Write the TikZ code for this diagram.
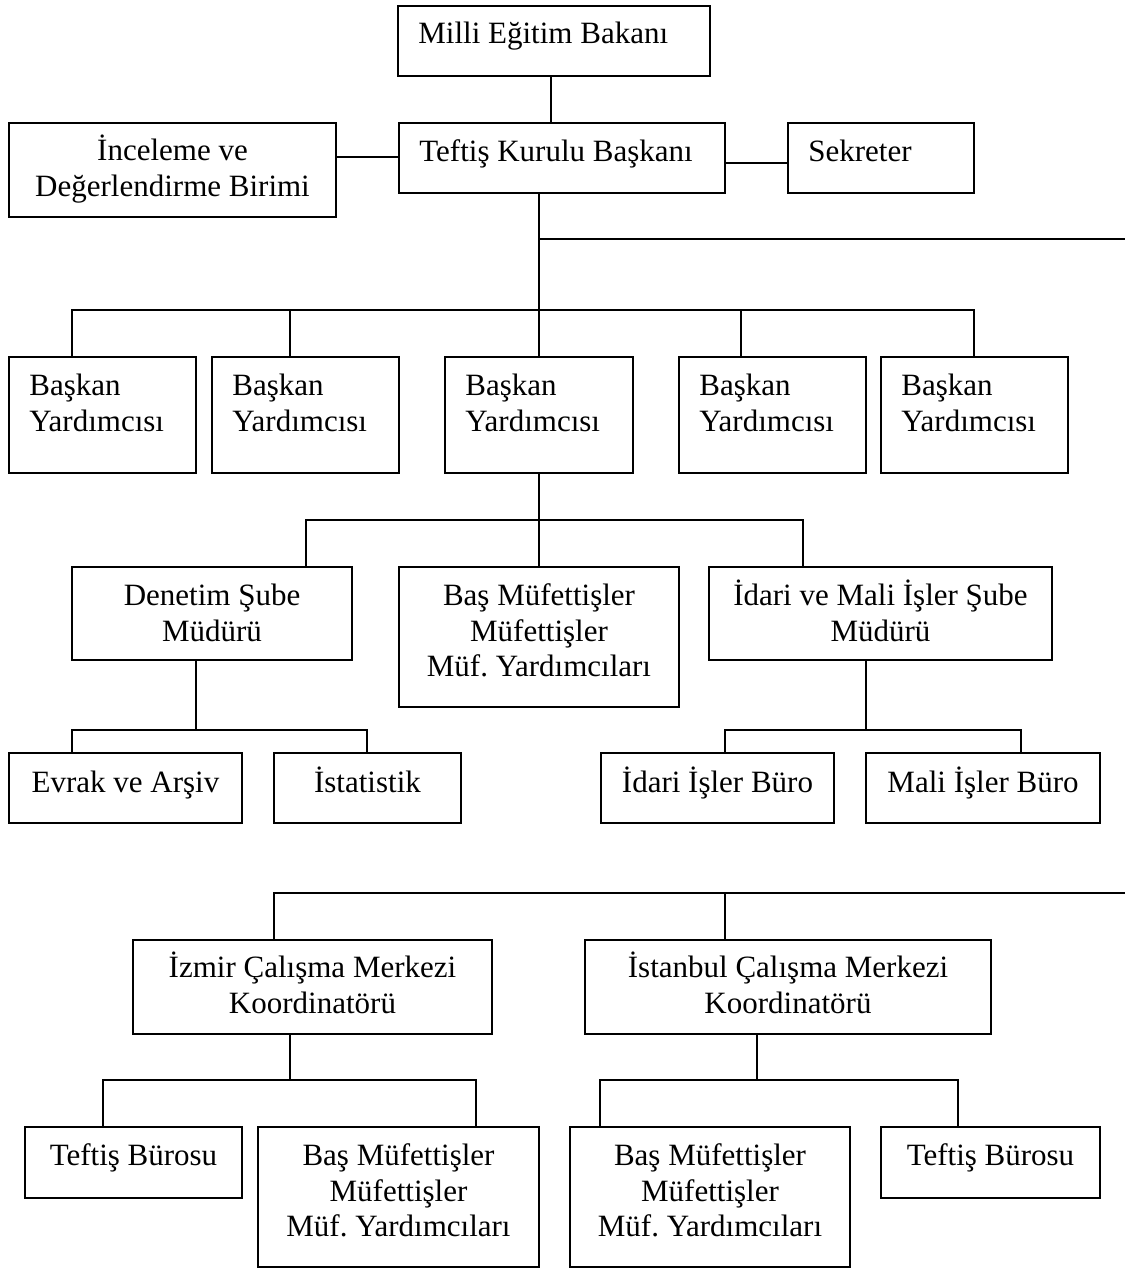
\documentclass[tikz,border=0pt]{standalone}
\usepackage{fontspec}
\setmainfont{Liberation Serif}
\frenchspacing

% Box drawn from its corners (x1,y1)-(x2,y2); text placed by the baseline of its first line
\newcommand\cbox[7]{%
  \node[box, minimum width={(#4-#2)*0.5pt}, minimum height={(#5-#3)*0.5pt}]
    (#1) at ({(#2+#4)/2},{(#3+#5)/2}) {};
  \node[lbl, align=center, anchor=north] (#1-t) at ({(#2+#4)/2},{#6-28}) {\rule{0pt}{14pt}#7};}
\newcommand\lbox[7]{%
  \node[box, minimum width={(#4-#2)*0.5pt}, minimum height={(#5-#3)*0.5pt}]
    (#1) at ({(#2+#4)/2},{(#3+#5)/2}) {};
  \node[lbl, align=left, anchor=north west] (#1-t) at ({#2+20},{#6-28}) {\rule{0pt}{14pt}#7};}

\begin{document}
\begin{tikzpicture}[x=0.5pt,y=-0.5pt,
  box/.style={draw, line width=1pt, rectangle, inner sep=0pt},
  lbl/.style={inner sep=0pt, font=\fontsize{15.5pt}{17.8pt}\selectfont\frenchspacing},
  link/.style={line width=0.9pt}]
\useasboundingbox (0,0) rectangle (1125,1269);

% --- top level
\lbox{milli}{398}{6}{710}{76}{43}{Milli Eğitim Bakanı}
\lbox{teftis}{399}{123}{725}{193}{161}{Teftiş Kurulu Başkanı}
\cbox{inceleme}{9}{123}{336}{217}{160}{İnceleme ve\\Değerlendirme Birimi}
\lbox{sekreter}{788}{123}{974}{193}{161}{Sekreter}

% --- deputies
\lbox{by1}{9}{357}{196}{473}{395}{Başkan\\Yardımcısı}
\lbox{by2}{212}{357}{399}{473}{395}{Başkan\\Yardımcısı}
\lbox{by3}{445}{357}{633}{473}{395}{Başkan\\Yardımcısı}
\lbox{by4}{679}{357}{866}{473}{395}{Başkan\\Yardımcısı}
\lbox{by5}{881}{357}{1068}{473}{395}{Başkan\\Yardımcısı}

% --- branch managers
\cbox{denetim}{72}{567}{352}{660}{605}{Denetim Şube\\Müdürü}
\cbox{bm1}{399}{567}{679}{707}{605}{Baş Müfettişler\\Müfettişler\\Müf. Yardımcıları}
\cbox{idari}{709}{567}{1052}{660}{605}{İdari ve Mali İşler Şube\\Müdürü}

% --- offices
\cbox{evrak}{9}{753}{242}{823}{792}{Evrak ve Arşiv}
\cbox{istat}{274}{753}{461}{823}{792}{İstatistik}
\cbox{idariis}{601}{753}{834}{823}{792}{İdari İşler Büro}
\cbox{mali}{866}{753}{1100}{823}{792}{Mali İşler Büro}

% --- working centres
\cbox{izmir}{133}{940}{492}{1034}{977}{İzmir Çalışma Merkezi\\Koordinatörü}
\cbox{istanbul}{585}{940}{991}{1034}{977}{İstanbul Çalışma Merkezi\\Koordinatörü}

\cbox{tb1}{25}{1127}{242}{1198}{1165}{Teftiş Bürosu}
\cbox{bm2}{258}{1127}{539}{1267}{1165}{Baş Müfettişler\\Müfettişler\\Müf. Yardımcıları}
\cbox{bm3}{570}{1127}{850}{1267}{1165}{Baş Müfettişler\\Müfettişler\\Müf. Yardımcıları}
\cbox{tb2}{881}{1127}{1100}{1198}{1165}{Teftiş Bürosu}

% --- connectors
\coordinate (outA) at (1125,239);
\coordinate (outB) at (1125,893);

\draw[link] (milli.south -| 551,0) -- (teftis.north -| 551,0);
\draw[link] (inceleme.east |- 0,157) -- (teftis.west |- 0,157);
\draw[link] (teftis.east |- 0,163) -- (sekreter.west |- 0,163);

\draw[link] (teftis.south -| 539,0) -- (539,310);
\draw[link] (539,239) -- (outA);
\draw[link] (by1.north -| 72,0) -- (72,310) -- (974,310) -- (by5.north -| 974,0);
\draw[link] (by2.north -| 290,0) -- (290,310);
\draw[link] (by3.north -| 539,0) -- (539,310);
\draw[link] (by4.north -| 741,0) -- (741,310);

\draw[link] (by3.south -| 539,0) -- (bm1.north -| 539,0);
\draw[link] (denetim.north -| 306,0) -- (306,520) -- (803,520) -- (idari.north -| 803,0);

\draw[link] (denetim.south -| 196,0) -- (196,730);
\draw[link] (evrak.north -| 72,0) -- (72,730) -- (367,730) -- (istat.north -| 367,0);
\draw[link] (idari.south -| 866,0) -- (866,730);
\draw[link] (idariis.north -| 725,0) -- (725,730) -- (1021,730) -- (mali.north -| 1021,0);

\draw[link] (izmir.north -| 274,0) -- (274,893) -- (outB);
\draw[link] (istanbul.north -| 725,0) -- (725,893);

\draw[link] (izmir.south -| 290,0) -- (290,1080);
\draw[link] (tb1.north -| 103,0) -- (103,1080) -- (476,1080) -- (bm2.north -| 476,0);
\draw[link] (istanbul.south -| 757,0) -- (757,1080);
\draw[link] (bm3.north -| 600,0) -- (600,1080) -- (958,1080) -- (tb2.north -| 958,0);
\end{tikzpicture}
\end{document}
